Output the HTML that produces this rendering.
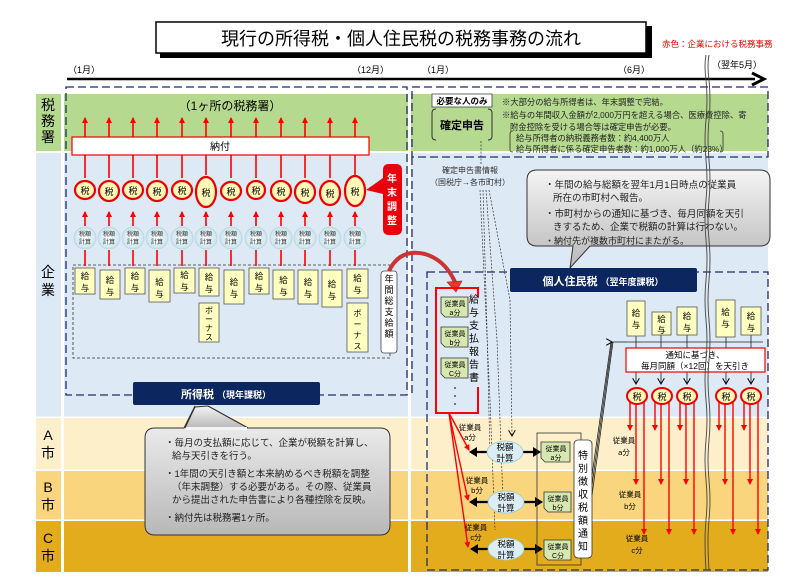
<!DOCTYPE html>
<html><head><meta charset="utf-8"><style>
html,body{margin:0;padding:0;background:#fff;width:800px;height:584px;overflow:hidden}
svg{display:block}
text{font-family:"Liberation Sans","Noto Sans CJK JP",sans-serif}
</style></head><body>
<svg width="800" height="584" viewBox="0 0 800 584" xmlns="http://www.w3.org/2000/svg">
<defs>
<marker id="ar" markerWidth="6" markerHeight="6" refX="5" refY="3" orient="auto" markerUnits="userSpaceOnUse"><path d="M0,0 L6,3 L0,6 z" fill="#f00"/></marker>
<marker id="ak" markerWidth="7" markerHeight="7" refX="6" refY="3.5" orient="auto" markerUnits="userSpaceOnUse"><path d="M0,0 L7,3.5 L0,7 z" fill="#000"/></marker>
<marker id="ao" markerWidth="7" markerHeight="7" refX="6" refY="3.5" orient="auto" markerUnits="userSpaceOnUse"><path d="M0,0 L6,3.5 L0,7" fill="none" stroke="#000" stroke-width="1"/></marker>
<linearGradient id="gg" x1="0" y1="0" x2="0" y2="1"><stop offset="0" stop-color="#f4f4f4"/><stop offset="1" stop-color="#b8b8b8"/></linearGradient>
<radialGradient id="cg"><stop offset="0" stop-color="#fff"/><stop offset="1" stop-color="#c8e4ee"/></radialGradient>
</defs>

<rect x="36" y="94" width="732" height="58" fill="#b5d98f"/>
<rect x="36" y="152" width="732" height="265" fill="#dde9f4"/>
<rect x="36" y="417" width="732" height="53" fill="#fdefc9"/>
<rect x="36" y="470" width="732" height="50" fill="#f9d67d"/>
<rect x="36" y="520" width="732" height="52" fill="#e3ac1c"/>
<rect x="61" y="94" width="3" height="478" fill="#fff"/>
<rect x="408" y="94" width="3" height="478" fill="#fff"/>
<rect x="36" y="151" width="732" height="2" fill="#fff"/>
<rect x="36" y="416.5" width="732" height="1.5" fill="#fff"/>
<rect x="36" y="469.5" width="732" height="1.5" fill="#fff"/>
<rect x="36" y="519.5" width="732" height="1.5" fill="#fff"/>

<g font-size="14" text-anchor="middle" fill="#000">
<text x="48" y="110">税</text><text x="48" y="126">務</text><text x="48" y="142">署</text>
<text x="48" y="277">企</text><text x="48" y="295">業</text>
<text x="48" y="440">A</text><text x="48" y="458">市</text>
<text x="48" y="492">B</text><text x="48" y="510">市</text>
<text x="48" y="543">C</text><text x="48" y="561">市</text>
</g>

<rect x="160" y="26" width="492" height="32" fill="#000"/>
<rect x="156" y="22" width="490" height="31" fill="#fff" stroke="#000" stroke-width="1.5"/>
<text x="401" y="45" font-size="18" text-anchor="middle">現行の所得税・個人住民税の税務事務の流れ</text>
<text x="662" y="47" font-size="8.5" fill="#e00">赤色：企業における税務事務</text>

<g font-size="9">
<text x="68" y="73">（1月）</text><text x="352" y="73">（12月）</text>
<text x="422" y="73">（1月）</text><text x="618" y="73">（6月）</text>
<text x="712" y="68">（翌年5月）</text>
</g>
<line x1="67" y1="79" x2="755" y2="79" stroke="#000" stroke-width="2.5"/>
<path d="M752,73 L764,79 L752,85" fill="none" stroke="#000" stroke-width="3"/>

<g fill="none" stroke="#1f2d6b" stroke-width="1.3" stroke-dasharray="8,4">
<rect x="66" y="87" width="341" height="308"/>
<rect x="412" y="87" width="356" height="70"/>
<polyline points="412,157 412,395"/>
<rect x="427" y="272" width="341" height="298"/>
</g>
<rect x="73" y="265" width="317" height="93" fill="none" stroke="#333" stroke-width="0.8" stroke-dasharray="3,2"/>

<text x="230" y="110" font-size="12" text-anchor="middle">（1ヶ所の税務署）</text>

<g stroke="#f00" stroke-width="1.6" marker-end="url(#ar)">
<line x1="85" y1="178" x2="85" y2="118"/><line x1="109" y1="178" x2="109" y2="118"/><line x1="133" y1="178" x2="133" y2="118"/><line x1="157" y1="178" x2="157" y2="118"/><line x1="182" y1="178" x2="182" y2="118"/><line x1="206" y1="175" x2="206" y2="118"/><line x1="231" y1="178" x2="231" y2="118"/><line x1="256" y1="178" x2="256" y2="118"/><line x1="281" y1="178" x2="281" y2="118"/><line x1="305" y1="178" x2="305" y2="118"/><line x1="330" y1="178" x2="330" y2="118"/><line x1="355" y1="175" x2="355" y2="118"/>
<line x1="85" y1="226" x2="85" y2="212"/><line x1="109" y1="226" x2="109" y2="212"/><line x1="133" y1="226" x2="133" y2="212"/><line x1="157" y1="226" x2="157" y2="212"/><line x1="182" y1="226" x2="182" y2="212"/><line x1="206" y1="226" x2="206" y2="212"/><line x1="231" y1="226" x2="231" y2="212"/><line x1="256" y1="226" x2="256" y2="212"/><line x1="281" y1="226" x2="281" y2="212"/><line x1="305" y1="226" x2="305" y2="212"/><line x1="330" y1="226" x2="330" y2="212"/><line x1="355" y1="226" x2="355" y2="212"/>
</g>
<g stroke="#f00" stroke-width="1.6">
<line x1="85" y1="266" x2="85" y2="250"/><line x1="109" y1="266" x2="109" y2="250"/><line x1="133" y1="266" x2="133" y2="250"/><line x1="157" y1="266" x2="157" y2="250"/><line x1="182" y1="266" x2="182" y2="250"/><line x1="206" y1="266" x2="206" y2="250"/><line x1="231" y1="266" x2="231" y2="250"/><line x1="256" y1="266" x2="256" y2="250"/><line x1="281" y1="266" x2="281" y2="250"/><line x1="305" y1="266" x2="305" y2="250"/><line x1="330" y1="266" x2="330" y2="250"/><line x1="355" y1="266" x2="355" y2="250"/>
</g>
<rect x="72" y="137" width="297" height="18" fill="#fff" stroke="#e00" stroke-width="1.2"/>
<text x="220" y="150" font-size="10" text-anchor="middle">納付</text>

<g fill="#fff8b8" stroke="#e00" stroke-width="2.2">
<ellipse cx="85" cy="190" rx="10" ry="9"/><ellipse cx="109" cy="191" rx="10" ry="10"/><ellipse cx="133" cy="190" rx="10" ry="9"/><ellipse cx="157" cy="191" rx="10" ry="10"/><ellipse cx="182" cy="190" rx="10" ry="9"/><ellipse cx="206" cy="192" rx="10" ry="15"/><ellipse cx="231" cy="191" rx="10" ry="9"/><ellipse cx="256" cy="190" rx="9" ry="9"/><ellipse cx="281" cy="191" rx="10" ry="10"/><ellipse cx="305" cy="192" rx="10" ry="11"/><ellipse cx="330" cy="193" rx="10" ry="12"/><ellipse cx="355" cy="191" rx="10" ry="15"/>
</g>
<g font-size="9" text-anchor="middle">
<text x="85" y="194">税</text><text x="109" y="195">税</text><text x="133" y="194">税</text><text x="157" y="195">税</text><text x="182" y="194">税</text><text x="206" y="196">税</text><text x="231" y="195">税</text><text x="256" y="194">税</text><text x="281" y="195">税</text><text x="305" y="196">税</text><text x="330" y="197">税</text><text x="355" y="195">税</text>
</g>
<path d="M366,190 L383,178 L383,170 Q383,164 389,164 L396,164 Q402,164 402,170 L402,229 Q402,235 396,235 L389,235 Q383,235 383,229 L383,194 z" fill="#e8000a"/>
<g font-size="10" font-weight="bold" fill="#fff" text-anchor="middle"><text x="392" y="182">年</text><text x="392" y="196">末</text><text x="392" y="210">調</text><text x="392" y="224">整</text></g>

<g fill="url(#cg)" stroke="#b8d4dc" stroke-width="0.8">
<circle cx="85" cy="238" r="11"/><circle cx="109" cy="238" r="11"/><circle cx="133" cy="238" r="11"/><circle cx="157" cy="238" r="11"/><circle cx="182" cy="238" r="11"/><circle cx="206" cy="238" r="11"/><circle cx="231" cy="238" r="11"/><circle cx="256" cy="238" r="11"/><circle cx="281" cy="238" r="11"/><circle cx="305" cy="238" r="11"/><circle cx="330" cy="238" r="11"/><circle cx="355" cy="238" r="11"/>
</g>
<g font-size="6" text-anchor="middle" fill="#333">
<text x="85" y="236">税額</text><text x="85" y="244">計算</text><text x="109" y="236">税額</text><text x="109" y="244">計算</text><text x="133" y="236">税額</text><text x="133" y="244">計算</text><text x="157" y="236">税額</text><text x="157" y="244">計算</text><text x="182" y="236">税額</text><text x="182" y="244">計算</text><text x="206" y="236">税額</text><text x="206" y="244">計算</text><text x="231" y="236">税額</text><text x="231" y="244">計算</text><text x="256" y="236">税額</text><text x="256" y="244">計算</text><text x="281" y="236">税額</text><text x="281" y="244">計算</text><text x="305" y="236">税額</text><text x="305" y="244">計算</text><text x="330" y="236">税額</text><text x="330" y="244">計算</text><text x="355" y="236">税額</text><text x="355" y="244">計算</text>
</g>

<g fill="#ffffc0" stroke="#555" stroke-width="0.8">
<rect x="75" y="268" width="20" height="26"/><rect x="100" y="270" width="20" height="29"/><rect x="125" y="268" width="20" height="26"/><rect x="149" y="270" width="21" height="32"/><rect x="174" y="268" width="21" height="25"/><rect x="199" y="268" width="20" height="28"/><rect x="224" y="270" width="20" height="34"/><rect x="249" y="268" width="20" height="26"/><rect x="273" y="270" width="21" height="29"/><rect x="298" y="270" width="20" height="34"/><rect x="322" y="270" width="20" height="37"/><rect x="347" y="269" width="21" height="29"/>
<rect x="199" y="303" width="20" height="39"/><rect x="347" y="303" width="21" height="49"/>
</g>
<g font-size="8.5" text-anchor="middle">
<text x="85" y="279">給</text><text x="85" y="291">与</text>
<text x="110" y="283">給</text><text x="110" y="295">与</text>
<text x="135" y="279">給</text><text x="135" y="291">与</text>
<text x="159.5" y="285">給</text><text x="159.5" y="297">与</text>
<text x="184.5" y="278">給</text><text x="184.5" y="290">与</text>
<text x="209" y="280">給</text><text x="209" y="292">与</text>
<text x="234" y="285">給</text><text x="234" y="297">与</text>
<text x="259" y="279">給</text><text x="259" y="291">与</text>
<text x="283.5" y="283">給</text><text x="283.5" y="295">与</text>
<text x="308" y="285">給</text><text x="308" y="297">与</text>
<text x="332" y="287">給</text><text x="332" y="299">与</text>
<text x="357.5" y="281">給</text><text x="357.5" y="293">与</text>
</g>
<g font-size="8" text-anchor="middle">
<text x="209" y="313">ボ</text><text x="209" y="322">ー</text><text x="209" y="331">ナ</text><text x="209" y="340">ス</text>
<text x="357.5" y="316">ボ</text><text x="357.5" y="327">ー</text><text x="357.5" y="338">ナ</text><text x="357.5" y="349">ス</text>
</g>
<rect x="381" y="271" width="16" height="82" rx="3" fill="#fff" stroke="#444" stroke-width="0.8"/>
<g font-size="9" text-anchor="middle"><text x="389" y="282">年</text><text x="389" y="293">間</text><text x="389" y="304">総</text><text x="389" y="315">支</text><text x="389" y="326">給</text><text x="389" y="337">額</text></g>
<path d="M389,271 Q400,248 425,254 Q445,260 455,282" fill="none" stroke="#c33" stroke-width="4"/>
<path d="M447,282 L462,281 L456,292 z" fill="#e33" stroke="#a22" stroke-width="0.6"/>

<rect x="133" y="382" width="187" height="23" rx="2" fill="#0c2660"/>
<text x="226" y="398" font-size="11" font-weight="bold" fill="#fff" text-anchor="middle">所得税 <tspan font-size="9">（現年課税）</tspan></text>
<path d="M160,428 L184,428 L195,406 L193,428 L248,428 L208,406 L248,428 L380,428 Q390,428 390,438 L390,525 Q390,535 380,535 L155,535 Q145,535 145,525 L145,438 Q145,428 155,428 z" fill="url(#gg)" stroke="#333" stroke-width="1"/>
<path d="M185,428 L195,407 L208,406 L248,428" fill="url(#gg)" stroke="#333" stroke-width="1"/>
<rect x="186" y="427" width="61" height="3" fill="#f3f3f3"/>
<g font-size="9.5" fill="#222">
<text x="165" y="446">・毎月の支払額に応じて、企業が税額を計算し、</text>
<text x="172" y="459">給与天引きを行う。</text>
<text x="165" y="477">・1年間の天引き額と本来納めるべき税額を調整</text>
<text x="172" y="490">（年末調整）する必要がある。その際、従業員</text>
<text x="172" y="503">から提出された申告書により各種控除を反映。</text>
<text x="165" y="521">・納付先は税務署1ヶ所。</text>
</g>

<rect x="432" y="94" width="60" height="13" fill="#fff" stroke="#444" stroke-width="0.8"/>
<text x="462" y="104" font-size="8.5" text-anchor="middle" font-weight="bold">必要な人のみ</text>
<path d="M436,109 Q432,109 432,113 L432,136 Q432,140 436,140 M488,109 Q492,109 492,113 L492,136 Q492,140 488,140" fill="none" stroke="#333" stroke-width="1"/>
<text x="462" y="129" font-size="11" font-weight="bold" text-anchor="middle">確定申告</text>
<g font-size="8.3" fill="#222">
<text x="502" y="105">※大部分の給与所得者は、年末調整で完結。</text>
<text x="502" y="118">※給与の年間収入金額が2,000万円を超える場合、医療費控除、寄</text>
<text x="510" y="130">附金控除を受ける場合等は確定申告が必要。</text>
<text x="516" y="141">給与所得者の納税義務者数：約4,400万人</text>
<text x="516" y="152">給与所得者に係る確定申告者数：約1,000万人（約23%）</text>
</g>
<path d="M513,131 Q510,131 510,134 L510,150 Q510,152 513,152 M720,131 Q723,131 723,134 L723,150 Q723,152 720,152" fill="none" stroke="#333" stroke-width="0.8"/>
<g font-size="8" fill="#333" text-anchor="middle"><text x="470" y="173">確定申告書情報</text><text x="470" y="185">（国税庁→各市町村）</text></g>
<g fill="none" stroke="#333" stroke-width="0.7" stroke-dasharray="2,1.5">
<line x1="481" y1="141" x2="481" y2="165"/>
<polyline points="483,190 487,330 490,455"/>
<polyline points="486,190 497,340 503,500" marker-end="url(#ao)"/>
<polyline points="489,190 510,300 512,436" marker-end="url(#ao)"/>
<polyline points="480,190 490,400 495,530"/>
</g>

<path d="M537,170 L760,170 Q770,170 770,180 L770,236 Q770,246 760,246 L590,246 L570,268 L573,246 L537,246 Q527,246 527,236 L527,180 Q527,170 537,170 z" fill="url(#gg)" stroke="#333" stroke-width="1"/>
<g font-size="9.5" fill="#222">
<text x="545" y="188">・年間の給与総額を翌年1月1日時点の従業員</text>
<text x="553" y="201">所在の市町村へ報告。</text>
<text x="545" y="217">・市町村からの通知に基づき、毎月同額を天引</text>
<text x="553" y="230">きするため、企業で税額の計算は行わない。</text>
<text x="545" y="244" font-size="9">・納付先が複数市町村にまたがる。</text>
</g>
<rect x="510" y="268" width="187" height="24" rx="2" fill="#0c2660"/>
<text x="603" y="285" font-size="11" font-weight="bold" fill="#fff" text-anchor="middle">個人住民税 <tspan font-size="9">（翌年度課税）</tspan></text>

<path d="M478,297 L478,288 L436,288 L436,413 L478,413 L478,387" fill="none" stroke="#f00" stroke-width="2"/>
<g font-size="10" text-anchor="middle"><text x="474" y="303">給</text><text x="474" y="316">与</text><text x="474" y="329">支</text><text x="474" y="342">払</text><text x="474" y="355">報</text><text x="474" y="368">告</text><text x="474" y="381">書</text></g>
<g fill="#d6e8b0" stroke="#333" stroke-width="0.8">
<path d="M441,297 L468,297 L468,317 L445,317 L441,313 z"/>
<path d="M441,327 L468,327 L468,347 L445,347 L441,343 z"/>
<path d="M441,358 L468,358 L468,378 L445,378 L441,374 z"/>
</g>
<g font-size="7" text-anchor="middle">
<text x="455" y="306">従業員</text><text x="455" y="315">a分</text>
<text x="455" y="336">従業員</text><text x="455" y="345">b分</text>
<text x="455" y="367">従業員</text><text x="455" y="376">C分</text>
</g>
<g fill="#222"><circle cx="455" cy="388" r="0.9"/><circle cx="455" cy="396" r="0.9"/><circle cx="455" cy="404" r="0.9"/></g>

<g stroke="#f00" stroke-width="1.4" fill="none" marker-end="url(#ar)">
<line x1="449" y1="413" x2="469" y2="450"/>
<line x1="449" y1="413" x2="468" y2="500"/>
<line x1="449" y1="413" x2="468" y2="547"/>
</g>
<g font-size="7.5" text-anchor="middle">
<text x="470" y="430">従業員</text><text x="470" y="440">a分</text>
<text x="477" y="483">従業員</text><text x="477" y="493">b分</text>
<text x="476" y="530">従業員</text><text x="476" y="540">c分</text>
</g>

<g stroke="#000" stroke-width="2.2">
<line x1="472" y1="452" x2="538" y2="452"/><line x1="472" y1="502" x2="540" y2="502"/><line x1="473" y1="549" x2="540" y2="549"/>
</g>
<g fill="#000">
<path d="M469,452 L477,447 L477,457 z"/><path d="M541,452 L533,447 L533,457 z"/>
<path d="M469,502 L477,497 L477,507 z"/><path d="M543,502 L535,497 L535,507 z"/>
<path d="M470,549 L478,544 L478,554 z"/><path d="M543,549 L535,544 L535,554 z"/>
</g>
<g fill="#dcedf5" stroke="#9cc" stroke-width="0.8">
<ellipse cx="505" cy="452" rx="18" ry="11"/><ellipse cx="506" cy="502" rx="18" ry="11"/><ellipse cx="506" cy="549" rx="18" ry="11"/>
</g>
<g font-size="8.5" text-anchor="middle">
<text x="505" y="450">税額</text><text x="505" y="461">計算</text>
<text x="506" y="500">税額</text><text x="506" y="511">計算</text>
<text x="506" y="547">税額</text><text x="506" y="558">計算</text>
</g>
<rect x="537" y="433" width="44" height="132" fill="none" stroke="#333" stroke-width="0.8"/>
<g fill="#d6e8b0" stroke="#333" stroke-width="0.8">
<path d="M541,442 L570,442 L570,462 L545,462 L541,458 z"/>
<path d="M544,492 L571,492 L571,512 L548,512 L544,508 z"/>
<path d="M544,540 L571,540 L571,560 L548,560 L544,556 z"/>
</g>
<g font-size="7" text-anchor="middle">
<text x="556" y="451">従業員</text><text x="556" y="460">a分</text>
<text x="558" y="501">従業員</text><text x="558" y="510">b分</text>
<text x="558" y="549">従業員</text><text x="558" y="558">C分</text>
</g>
<rect x="574" y="440" width="18" height="118" rx="4" fill="#fff" stroke="#333" stroke-width="0.8"/>
<g font-size="10" text-anchor="middle"><text x="583" y="459">特</text><text x="583" y="472">別</text><text x="583" y="485">徴</text><text x="583" y="498">収</text><text x="583" y="511">税</text><text x="583" y="524">額</text><text x="583" y="537">通</text><text x="583" y="550">知</text></g>
<g fill="none" stroke="#222" stroke-width="0.8">
<line x1="592" y1="475" x2="611" y2="342"/><line x1="592" y1="485" x2="612" y2="342"/><line x1="592" y1="495" x2="613" y2="342"/>
<line x1="612" y1="342" x2="628" y2="342" marker-start="url(#ao)"/>
<line x1="628" y1="342" x2="763" y2="342"/>
<line x1="636" y1="336" x2="636" y2="348"/><line x1="661" y1="335" x2="661" y2="348"/><line x1="687" y1="335" x2="687" y2="348"/><line x1="726" y1="337" x2="726" y2="348"/><line x1="751" y1="335" x2="751" y2="348"/>
<line x1="636" y1="372" x2="636" y2="384" marker-end="url(#ao)"/><line x1="661" y1="372" x2="661" y2="384" marker-end="url(#ao)"/><line x1="687" y1="372" x2="687" y2="384" marker-end="url(#ao)"/><line x1="726" y1="372" x2="726" y2="384" marker-end="url(#ao)"/><line x1="751" y1="372" x2="751" y2="384" marker-end="url(#ao)"/>
</g>
<g fill="#ffffc0" stroke="#555" stroke-width="0.8">
<rect x="627" y="301" width="18" height="35"/><rect x="652" y="312" width="19" height="23"/><rect x="677" y="307" width="20" height="28"/><rect x="716" y="300" width="19" height="37"/><rect x="741" y="307" width="20" height="28"/>
</g>
<g font-size="8.5" text-anchor="middle">
<text x="636" y="316">給</text><text x="636" y="328">与</text>
<text x="661.5" y="322">給</text><text x="661.5" y="333">与</text>
<text x="687" y="319">給</text><text x="687" y="331">与</text>
<text x="725.5" y="315">給</text><text x="725.5" y="327">与</text>
<text x="751" y="319">給</text><text x="751" y="331">与</text>
</g>
<rect x="626" y="348" width="139" height="24" fill="#fff" stroke="#e00" stroke-width="1.2"/>
<g font-size="8.5" text-anchor="middle"><text x="695" y="358">通知に基づき、</text><text x="695" y="369">毎月同額（×12回）を天引き</text></g>

<g stroke="#f00" stroke-width="1.4" marker-end="url(#ar)">
<line x1="630" y1="400" x2="630" y2="430"/><line x1="636" y1="400" x2="636" y2="484"/><line x1="644" y1="400" x2="644" y2="534"/>
<line x1="655" y1="400" x2="655" y2="430"/><line x1="661" y1="400" x2="661" y2="484"/><line x1="669" y1="400" x2="669" y2="534"/>
<line x1="680" y1="400" x2="680" y2="430"/><line x1="686" y1="400" x2="686" y2="484"/><line x1="694" y1="400" x2="694" y2="534"/>
<line x1="719" y1="400" x2="719" y2="430"/><line x1="725" y1="400" x2="725" y2="484"/><line x1="733" y1="400" x2="733" y2="534"/>
<line x1="744" y1="400" x2="744" y2="430"/><line x1="750" y1="400" x2="750" y2="484"/><line x1="758" y1="400" x2="758" y2="534"/>
</g>
<g fill="#fff8b8" stroke="#e00" stroke-width="2">
<ellipse cx="637" cy="396" rx="10" ry="8"/><ellipse cx="662" cy="396" rx="10" ry="8"/><ellipse cx="687" cy="396" rx="10" ry="8"/><ellipse cx="726" cy="396" rx="10" ry="8"/><ellipse cx="751" cy="396" rx="10" ry="8"/>
</g>
<g font-size="9" text-anchor="middle">
<text x="637" y="400">税</text><text x="662" y="400">税</text><text x="687" y="400">税</text><text x="726" y="400">税</text><text x="751" y="400">税</text>
</g>
<g font-size="7.5" text-anchor="middle">
<text x="624" y="443">従業員</text><text x="624" y="455">a分</text>
<text x="630" y="497">従業員</text><text x="630" y="509">b分</text>
<text x="637" y="541">従業員</text><text x="637" y="553">c分</text>
</g>

<g fill="none" stroke="#444" stroke-width="0.9">
<path d="M706,55 Q704,65 706,80 Q708,100 706,120 Q704,140 706,160 Q708,180 706,200 Q704,220 706,240 Q708,260 706,280 Q704,300 706,320 Q708,340 706,360 Q704,380 706,400 Q708,420 706,440 Q704,460 706,480 Q708,500 706,520 Q704,540 706,570"/>
<path d="M709,55 Q707,65 709,80 Q711,100 709,120 Q707,140 709,160 Q711,180 709,200 Q707,220 709,240 Q711,260 709,280 Q707,300 709,320 Q711,340 709,360 Q707,380 709,400 Q711,420 709,440 Q707,460 709,480 Q711,500 709,520 Q707,540 709,570"/>
</g>
</svg>
</body></html>
